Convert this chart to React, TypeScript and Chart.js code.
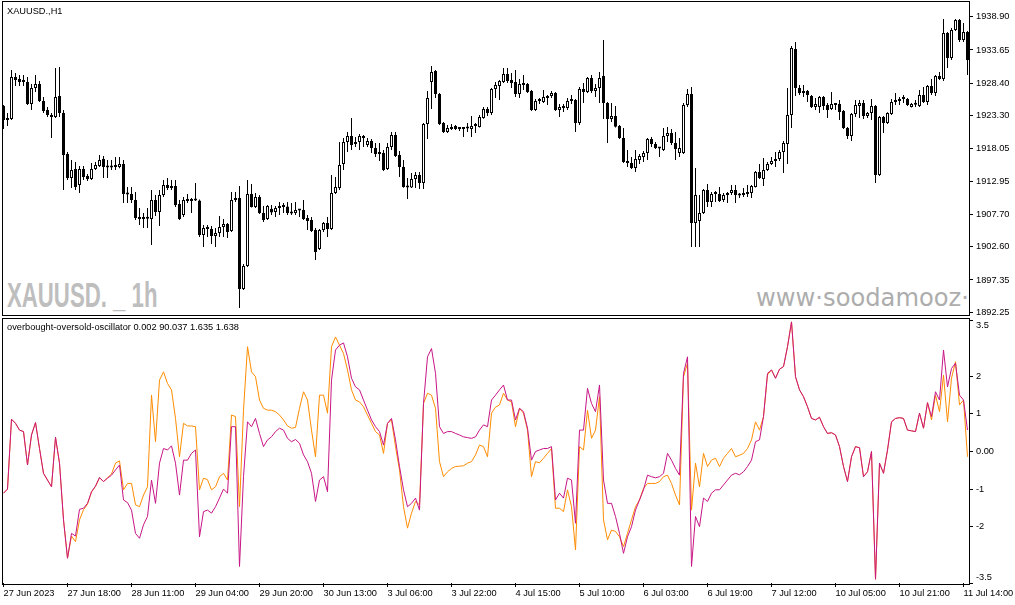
import React, { useEffect, useRef } from 'react';
import { Chart, registerables } from 'chart.js';

Chart.register(...registerables);

// ---------- Data ----------
const SYMBOL_TITLE = 'XAUUSD.,H1';
const INDICATOR_TITLE = 'overbought-oversold-oscillator 0.002 90.037 1.635 1.638';
const WATERMARK_SYMBOL = 'XAUUSD. _ 1h';
const WATERMARK_SITE = 'www·soodamooz·com';

const TIME_LABELS = [
  '27 Jun 2023', '27 Jun 18:00', '28 Jun 11:00', '29 Jun 04:00', '29 Jun 20:00', '30 Jun 13:00',
  '3 Jul 06:00', '3 Jul 22:00', '4 Jul 15:00', '5 Jul 10:00', '6 Jul 03:00', '6 Jul 19:00',
  '7 Jul 12:00', '10 Jul 05:00', '10 Jul 21:00', '11 Jul 14:00',
];
const TIME_TICK_STEP = 16; // one time label every 16 hourly bars

const PRICE_TICKS = [1892.25, 1897.35, 1902.6, 1907.7, 1912.95, 1918.05, 1923.3, 1928.4, 1933.65, 1938.9];
const PRICE_MIN = 1891.82;
const PRICE_MAX = 1941.22;

const OSC_TICKS = [-3.5, -2, -1, 0, 1, 2, 3.5];
const OSC_TICK_LABELS = ['-3.5', '-2', '-1', '0.00', '1', '2', '3.5'];
const OSC_MIN = -3.5;
const OSC_MAX = 3.5;

const OPEN = [
  1924.81,1922.60,1922.76,1929.39,1929.07,1928.76,1928.60,1925.13,1927.65,1928.29,
  1925.60,1924.18,1923.39,1923.08,1926.39,1923.71,1917.24,1913.45,1914.87,1912.35,
  1914.87,1913.77,1913.29,1914.87,1915.34,1916.45,1915.19,1915.10,1915.34,1915.19,
  1915.66,1910.93,1910.93,1909.98,1907.30,1906.98,1907.10,1906.98,1909.98,1908.08,
  1910.77,1912.35,1911.87,1912.19,1909.35,1907.61,1909.98,1909.82,1909.90,1909.90,
  1904.46,1905.56,1905.40,1904.30,1904.77,1905.72,1906.19,1905.09,1909.98,1910.30,
  1895.94,1899.56,1910.93,1908.87,1910.45,1907.93,1906.98,1908.60,1908.08,1908.72,
  1908.85,1908.95,1907.93,1907.93,1908.40,1908.40,1907.14,1906.82,1905.24,1902.25,
  1905.24,1906.35,1905.40,1911.08,1911.87,1915.66,1919.13,1920.08,1918.81,1919.13,
  1920.08,1918.66,1919.29,1918.19,1917.24,1917.40,1914.87,1918.34,1920.24,1917.08,
  1915.19,1912.03,1911.95,1913.29,1913.92,1912.66,1921.97,1928.60,1930.33,1926.71,
  1922.13,1920.71,1921.18,1921.66,1921.34,1921.18,1921.30,1921.18,1921.66,1921.50,
  1922.92,1924.34,1923.71,1927.49,1927.97,1928.60,1929.86,1928.92,1928.60,1926.71,
  1928.44,1928.29,1927.18,1924.18,1925.60,1925.44,1926.39,1926.39,1926.86,1924.18,
  1924.81,1924.50,1925.60,1925.76,1922.13,1927.49,1927.02,1929.23,1927.18,1927.65,
  1929.55,1925.29,1922.76,1923.24,1921.66,1919.76,1916.13,1915.82,1915.03,1916.29,
  1916.76,1917.40,1919.60,1918.81,1918.19,1917.87,1920.08,1920.55,1918.97,1917.40,
  1917.40,1924.97,1926.71,1906.35,1906.66,1907.93,1911.56,1909.66,1910.93,1910.93,
  1909.98,1910.77,1911.08,1911.56,1910.77,1910.77,1910.93,1911.08,1912.03,1914.40,
  1913.29,1914.71,1915.66,1916.13,1916.45,1917.55,1918.81,1923.39,1933.81,1927.65,
  1927.18,1927.18,1926.39,1924.66,1924.66,1926.23,1924.97,1924.34,1925.13,1925.13,
  1924.02,1921.34,1920.08,1923.55,1924.81,1925.29,1923.24,1923.71,1924.81,1913.92,
  1923.08,1922.13,1923.55,1925.44,1925.60,1925.92,1925.92,1924.66,1925.13,1924.81,
  1926.55,1925.44,1927.97,1926.86,1929.55,1929.07,1936.33,1932.39,1936.80,1938.38,
  1935.22,1936.49,
];

const HIGH = [
  1924.97,1923.71,1930.49,1930.02,1929.70,1929.70,1929.39,1928.29,1929.70,1928.76,
  1926.23,1924.66,1923.71,1930.81,1930.97,1924.18,1917.55,1916.29,1915.97,1915.35,
  1915.35,1914.08,1915.82,1915.97,1917.08,1916.92,1916.29,1916.29,1916.76,1916.76,
  1916.29,1912.03,1912.03,1911.24,1908.72,1907.93,1908.72,1911.56,1910.77,1911.56,
  1913.14,1913.45,1913.14,1913.14,1909.98,1910.45,1910.93,1910.30,1912.66,1910.05,
  1906.03,1906.03,1905.87,1905.56,1907.45,1906.98,1906.35,1911.24,1911.24,1912.19,
  1899.88,1913.14,1912.51,1911.08,1910.77,1909.03,1909.19,1909.20,1909.03,1909.66,
  1909.51,1909.66,1909.51,1909.66,1908.56,1909.98,1907.61,1907.30,1905.56,1905.40,
  1906.51,1907.30,1913.92,1913.61,1919.13,1919.76,1920.71,1922.92,1919.92,1920.39,
  1920.24,1919.76,1919.60,1918.97,1918.97,1917.87,1918.97,1920.71,1920.71,1917.71,
  1916.29,1913.45,1914.24,1914.40,1914.40,1922.13,1927.18,1931.12,1930.49,1926.86,
  1922.29,1921.81,1921.97,1921.81,1921.50,1921.50,1922.13,1923.24,1922.13,1923.39,
  1924.66,1924.66,1927.65,1928.60,1928.92,1930.81,1930.81,1930.02,1930.49,1929.07,
  1929.70,1928.44,1927.33,1925.92,1926.08,1927.33,1926.55,1927.18,1927.02,1925.13,
  1925.13,1926.08,1926.55,1925.92,1927.81,1928.44,1929.39,1929.70,1928.29,1930.17,
  1935.22,1925.44,1925.29,1924.81,1921.81,1921.34,1917.87,1916.76,1917.87,1917.24,
  1917.71,1919.76,1919.92,1919.13,1918.34,1921.34,1921.50,1921.18,1920.71,1919.76,
  1925.29,1927.49,1927.81,1915.03,1910.77,1911.71,1912.51,1911.24,1911.40,1912.03,
  1911.08,1911.24,1912.35,1912.35,1911.08,1911.87,1912.35,1912.35,1914.55,1915.66,
  1916.61,1915.97,1916.76,1917.55,1917.87,1919.29,1927.65,1934.28,1934.91,1928.13,
  1928.13,1927.33,1926.55,1926.08,1926.39,1926.39,1925.29,1927.02,1925.29,1925.76,
  1924.18,1921.50,1923.71,1925.76,1925.76,1925.76,1923.87,1925.92,1924.97,1923.24,
  1923.24,1923.80,1925.92,1926.86,1926.23,1926.55,1926.08,1925.29,1925.76,1927.33,
  1927.81,1928.13,1929.07,1929.70,1930.17,1938.54,1936.49,1937.12,1938.54,1938.54,
  1937.91,1936.65,
];

const LOW = [
  1921.18,1921.66,1922.60,1927.97,1927.97,1927.97,1924.97,1924.18,1927.02,1925.44,
  1923.71,1923.08,1919.76,1922.92,1923.08,1911.56,1913.14,1911.87,1911.56,1911.08,
  1913.14,1912.98,1913.14,1914.71,1915.19,1913.45,1913.45,1914.71,1914.71,1915.00,
  1909.51,1909.51,1909.51,1906.82,1906.03,1905.56,1905.56,1902.88,1907.45,1905.87,
  1910.45,1911.56,1911.56,1908.87,1906.82,1907.30,1909.51,1907.93,1909.82,1904.14,
  1902.56,1904.14,1903.04,1902.56,1904.14,1904.14,1903.98,1904.93,1909.66,1892.94,
  1895.78,1899.40,1908.80,1908.72,1907.77,1906.51,1906.82,1907.60,1907.30,1907.61,
  1907.93,1907.61,1907.61,1907.61,1907.30,1906.82,1905.24,1904.93,1900.51,1902.09,
  1904.93,1904.14,1905.24,1910.93,1911.56,1914.71,1917.55,1917.87,1918.34,1917.87,
  1918.34,1918.34,1917.40,1916.76,1916.13,1914.55,1914.71,1917.87,1916.76,1913.61,
  1911.90,1910.14,1911.87,1911.87,1911.71,1911.71,1919.60,1924.34,1926.08,1921.81,
  1920.55,1920.55,1921.02,1921.02,1920.86,1919.92,1920.71,1919.92,1920.55,1921.40,
  1922.80,1923.24,1923.39,1926.08,1925.76,1928.44,1928.44,1927.65,1926.23,1926.08,
  1927.33,1926.86,1924.02,1924.02,1925.13,1925.29,1924.97,1926.08,1924.02,1923.08,
  1923.87,1924.18,1925.13,1920.71,1921.81,1925.29,1926.86,1926.86,1926.23,1925.29,
  1922.76,1918.97,1922.29,1921.40,1919.60,1915.82,1915.19,1914.87,1914.40,1915.66,
  1915.97,1916.29,1918.34,1918.03,1916.76,1917.71,1919.13,1918.66,1916.29,1916.76,
  1917.24,1924.66,1902.56,1902.56,1902.56,1907.77,1908.87,1908.87,1909.66,1909.66,
  1909.66,1909.51,1910.77,1909.51,1910.30,1910.45,1910.45,1910.30,1911.95,1913.29,
  1912.19,1914.55,1915.50,1915.19,1916.13,1914.24,1915.66,1921.34,1926.39,1926.55,
  1926.23,1925.44,1924.50,1924.18,1923.71,1924.18,1922.92,1924.18,1924.18,1922.60,
  1921.18,1919.60,1919.29,1923.08,1922.92,1922.76,1922.92,1922.60,1912.66,1913.77,
  1920.55,1921.97,1923.39,1924.97,1924.97,1925.29,1924.81,1924.55,1924.66,1924.66,
  1925.29,1924.97,1926.55,1926.39,1928.92,1928.76,1930.81,1932.07,1936.65,1934.91,
  1934.91,1929.70,
];

const CLOSE = [
  1922.60,1922.92,1929.39,1928.92,1928.60,1928.60,1925.13,1927.65,1928.29,1925.60,
  1924.02,1923.39,1923.08,1926.23,1923.71,1917.08,1913.45,1914.71,1912.03,1914.87,
  1913.61,1913.29,1914.87,1915.50,1916.29,1915.19,1915.10,1915.15,1915.19,1915.66,
  1910.93,1910.85,1909.98,1907.14,1906.98,1907.10,1907.00,1909.98,1908.08,1910.77,
  1912.35,1911.87,1912.19,1909.19,1906.98,1909.98,1909.82,1909.90,1910.05,1904.46,
  1905.56,1905.40,1904.30,1904.77,1905.72,1906.19,1904.93,1909.98,1910.14,1895.94,
  1899.56,1910.93,1908.87,1910.45,1907.93,1906.82,1909.03,1908.00,1908.72,1908.85,
  1908.95,1907.93,1907.85,1908.40,1908.30,1906.98,1906.66,1905.09,1901.77,1905.24,
  1906.35,1905.40,1911.08,1912.03,1915.50,1919.13,1920.08,1918.66,1919.13,1920.08,
  1919.76,1919.29,1918.19,1917.24,1917.40,1914.71,1918.34,1920.24,1916.92,1915.19,
  1912.03,1911.95,1913.29,1913.92,1912.66,1921.97,1926.08,1930.17,1926.71,1921.97,
  1920.71,1921.34,1921.50,1921.18,1921.18,1921.30,1921.25,1921.66,1921.75,1923.08,
  1924.34,1923.71,1927.49,1928.13,1928.76,1929.86,1928.76,1928.44,1926.71,1928.29,
  1928.13,1927.02,1924.18,1925.60,1925.70,1926.23,1926.08,1926.86,1924.18,1924.66,
  1924.50,1925.60,1925.70,1922.13,1927.49,1927.02,1929.23,1927.18,1927.65,1929.23,
  1925.29,1922.76,1923.24,1921.55,1919.76,1915.97,1915.82,1915.03,1916.45,1916.92,
  1917.40,1919.60,1918.81,1918.19,1918.10,1920.08,1920.55,1918.97,1918.03,1918.19,
  1924.97,1926.71,1906.35,1910.77,1907.93,1911.56,1909.66,1910.93,1911.10,1909.82,
  1910.77,1911.08,1911.56,1910.77,1910.70,1911.08,1911.24,1912.19,1914.40,1913.45,
  1914.71,1915.66,1916.13,1916.20,1917.55,1918.97,1923.39,1933.97,1927.65,1926.86,
  1926.86,1926.55,1924.66,1925.13,1926.23,1924.81,1924.18,1925.13,1924.97,1923.87,
  1921.34,1920.08,1923.55,1924.97,1925.29,1923.24,1923.71,1924.81,1913.92,1923.08,
  1922.13,1923.71,1925.44,1925.76,1925.92,1926.23,1924.97,1925.13,1925.00,1926.55,
  1925.44,1927.97,1926.86,1929.55,1929.07,1936.33,1932.39,1936.80,1938.38,1935.22,
  1936.49,1932.07,
];

// oscillator main line (magenta)
const OSC_MAIN = [
  -1.11,-1.00,0.86,0.75,0.57,0.53,-0.36,0.44,0.77,0.08,
  -0.58,-0.76,-0.94,0.38,-0.31,-1.82,-2.84,-2.18,-2.25,-1.54,
  -1.51,-1.38,-1.07,-0.92,-0.69,-0.80,-0.71,-0.63,-0.49,-0.36,
  -1.29,-1.36,-1.56,-2.18,-2.31,-1.95,-1.73,-0.76,-1.38,-0.31,
  0.08,0.04,0.15,-0.31,-1.16,-0.23,-0.23,-0.05,0.04,-2.27,
  -1.60,-1.56,-1.64,-1.47,-1.24,-1.00,-1.11,0.66,0.66,-3.06,
  -0.67,0.79,0.66,0.88,0.48,0.13,0.31,0.39,0.53,0.62,
  0.57,0.35,0.26,0.32,0.22,-0.09,-0.27,-0.58,-1.33,-0.76,
  -0.67,-1.07,1.90,2.70,2.83,2.89,2.52,1.95,1.72,1.64,
  1.37,1.10,0.84,0.66,0.53,0.17,0.75,0.88,0.31,-0.40,
  -1.02,-1.47,-1.38,-1.24,-1.56,1.28,2.52,2.74,2.08,0.66,
  0.48,0.53,0.53,0.48,0.44,0.39,0.37,0.35,0.39,0.57,
  0.71,0.66,1.37,1.50,1.64,1.77,1.37,1.37,0.84,1.15,
  1.06,0.62,-0.23,0.00,0.04,0.08,0.08,0.13,-1.29,-1.11,
  -1.24,-0.71,-0.76,-1.91,0.57,0.57,1.68,1.28,1.06,1.77,
  -0.76,-1.38,-1.38,-1.73,-2.18,-2.71,-2.27,-2.00,-1.56,-1.29,
  -1.02,-0.63,-0.67,-0.70,-0.67,-0.58,-0.05,-0.23,-0.45,-0.63,
  2.08,2.52,-3.06,-1.73,-2.00,-1.24,-1.33,-1.11,-1.02,-1.02,
  -0.89,-0.76,-0.63,-0.58,-0.62,-0.54,-0.40,-0.23,0.26,0.31,
  0.93,2.08,2.17,1.95,2.19,2.26,2.79,3.45,1.99,1.64,
  1.46,1.19,0.88,0.84,0.91,0.66,0.48,0.50,0.44,0.13,
  -0.40,-0.80,-0.14,0.13,0.10,-0.67,-0.54,0.00,-3.40,-0.31,
  -0.58,0.04,0.79,0.88,0.90,0.88,0.57,0.55,0.53,1.02,
  0.62,1.30,0.93,1.59,1.37,2.70,1.72,2.21,2.35,1.50,
  1.37,0.57,
];

// oscillator signal line (orange)
const OSC_SIGNAL = [
  -1.11,-1.00,0.86,0.75,0.57,0.53,-0.36,0.44,0.77,0.08,
  -0.58,-0.76,-0.94,0.38,-0.31,-1.82,-2.84,-2.25,-2.40,-1.82,
  -1.55,-1.40,-1.08,-0.93,-0.70,-0.80,-0.70,-0.60,-0.31,-0.25,
  -1.02,-0.85,-0.85,-1.42,-1.47,-1.16,-0.94,1.50,0.26,1.90,
  2.12,1.81,1.64,0.88,-0.14,0.75,0.68,0.68,0.66,-1.02,
  -0.71,-0.75,-1.02,-0.94,-0.67,-0.58,-0.76,0.97,0.93,-1.47,
  1.10,2.79,2.12,1.99,1.37,1.15,1.10,1.10,1.06,0.97,
  0.84,0.68,0.62,0.64,1.15,1.59,1.37,0.57,-0.14,1.50,
  1.50,1.02,2.79,3.05,2.83,2.61,2.17,1.64,1.37,1.32,
  1.19,0.97,0.75,0.53,0.44,-0.05,0.75,0.84,0.13,-0.49,
  -1.47,-2.04,-1.64,-1.33,-1.42,1.28,1.55,1.50,1.15,-0.27,
  -0.67,-0.54,-0.45,-0.40,-0.39,-0.38,-0.31,-0.27,-0.09,0.17,
  0.13,-0.14,1.02,1.18,1.24,1.55,1.37,1.32,0.66,1.15,
  1.02,0.57,-0.67,-0.27,-0.30,-0.18,-0.05,0.08,-1.51,-1.51,
  -1.60,-1.02,-1.47,-2.62,0.13,0.04,1.10,0.35,0.57,1.46,
  -1.82,-2.35,-2.09,-2.13,-2.27,-2.53,-2.18,-1.82,-1.47,-1.29,
  -0.98,-0.85,-0.85,-0.85,-0.80,-0.67,-0.63,-0.85,-1.16,-1.42,
  1.99,2.35,-1.56,-0.31,-0.94,-0.05,-0.40,-0.23,-0.18,-0.40,
  -0.18,-0.05,0.08,-0.14,-0.10,-0.05,0.08,0.31,0.79,0.57,
  0.93,2.04,2.17,1.95,2.19,2.26,2.79,3.45,1.99,1.64,
  1.46,1.19,0.88,0.84,0.91,0.66,0.48,0.50,0.44,0.13,
  -0.40,-0.80,-0.14,0.13,0.10,-0.67,-0.54,0.00,-3.40,-0.31,
  -0.58,0.04,0.79,0.88,0.90,0.88,0.57,0.55,0.53,1.02,
  0.62,1.30,0.84,1.50,1.06,2.03,0.79,1.95,2.39,1.24,
  1.37,-0.14,
];

// ---------- Styling ----------
const FONT = "'Liberation Sans', Arial, sans-serif";
const TICK_FONT = { family: FONT, size: 9.25, lineHeight: 1.2 };
const MAIN_COLOR = '#C71585';
const SIGNAL_COLOR = '#FF8C00';

const W = 1015;
const PRICE_H = 318;
const OSC_TOP = 318;
const OSC_H = 605 - OSC_TOP;

function fixYAxis(scale: any) {
  scale.width = 46;
  scale.paddingTop = 0;
  scale.paddingBottom = 0;
}
function fixXAxis(scale: any) {
  scale.height = 22;
  scale.paddingLeft = 0;
  scale.paddingRight = 0;
}

const N = CLOSE.length;
const INDEX = CLOSE.map((_, i) => i);

const xBase = {
  type: 'linear' as const,
  min: -0.375,
  max: N - 1 + 0.375,
  offset: false,
  grid: { offset: false },
};

const yGrid = { drawOnChartArea: false, drawTicks: true, tickLength: 4, color: '#000', lineWidth: 1 };

function priceConfig(): any {
  return {
    type: 'bar',
    data: {
      datasets: [
        {
          label: 'wick',
          data: INDEX.map((i) => ({ x: i, y: [LOW[i], HIGH[i]] })),
          backgroundColor: '#000',
          borderWidth: 0,
          barThickness: 1,
          grouped: false,
          inflateAmount: 0,
          order: 1,
        },
        {
          label: 'body',
          data: INDEX.map((i) => ({ x: i, y: [OPEN[i], CLOSE[i]] })),
          backgroundColor: INDEX.map((i) => (CLOSE[i] >= OPEN[i] ? '#ffffff' : '#000000')),
          borderColor: '#000',
          borderWidth: 1,
          borderSkipped: false,
          barThickness: 3,
          minBarLength: 2,
          grouped: false,
          inflateAmount: 0,
          order: 0,
        },
      ],
    },
    options: {
      responsive: false,
      animation: false,
      devicePixelRatio: 1,
      events: [],
      layout: { autoPadding: false, padding: { left: 2, top: 2, right: 0, bottom: 3 } },
      plugins: { legend: { display: false }, tooltip: { enabled: false } },
      scales: {
        x: { ...xBase, display: false },
        y: {
          type: 'linear',
          position: 'right',
          min: PRICE_MIN,
          max: PRICE_MAX,
          afterBuildTicks: (s: any) => {
            s.ticks = PRICE_TICKS.map((value) => ({ value }));
          },
          afterFit: fixYAxis,
          border: { display: false },
          grid: yGrid,
          ticks: {
            font: TICK_FONT,
            color: '#000',
            padding: 3,
            autoSkip: false,
            callback: (v: any) => Number(v).toFixed(2),
          },
        },
      },
    },
  };
}

function oscConfig(): any {
  return {
    type: 'line',
    data: {
      datasets: [
        {
          label: 'main',
          data: INDEX.map((i) => ({ x: i, y: OSC_MAIN[i] })),
          borderColor: MAIN_COLOR,
          borderWidth: 1,
          pointRadius: 0,
          tension: 0,
          fill: false,
          order: 0,
        },
        {
          label: 'signal',
          data: INDEX.map((i) => ({ x: i, y: OSC_SIGNAL[i] })),
          borderColor: SIGNAL_COLOR,
          borderWidth: 1,
          pointRadius: 0,
          tension: 0,
          fill: false,
          order: 1,
        },
      ],
    },
    options: {
      responsive: false,
      animation: false,
      devicePixelRatio: 1,
      events: [],
      layout: { autoPadding: false, padding: { left: 2, top: 2, right: 0, bottom: 0 } },
      plugins: { legend: { display: false }, tooltip: { enabled: false } },
      scales: {
        x: {
          ...xBase,
          position: 'bottom',
          afterBuildTicks: (s: any) => {
            s.ticks = TIME_LABELS.map((_, k) => ({ value: k * TIME_TICK_STEP }));
          },
          afterFit: fixXAxis,
          border: { display: false },
          grid: { ...yGrid, offset: false },
          ticks: {
            font: TICK_FONT,
            color: '#000',
            padding: 1,
            align: 'start',
            maxRotation: 0,
            minRotation: 0,
            autoSkip: false,
            callback: (_v: any, i: number) => TIME_LABELS[i],
          },
        },
        y: {
          type: 'linear',
          position: 'right',
          min: OSC_MIN,
          max: OSC_MAX,
          afterBuildTicks: (s: any) => {
            s.ticks = OSC_TICKS.map((value) => ({ value }));
          },
          afterFit: fixYAxis,
          border: { display: false },
          grid: yGrid,
          ticks: {
            font: TICK_FONT,
            color: '#000',
            padding: 3,
            autoSkip: false,
            callback: (_v: any, i: number) => {
              const label = OSC_TICK_LABELS[i];
              if (i === 0) return [label, ''];
              if (i === OSC_TICK_LABELS.length - 1) return ['', label];
              return label;
            },
          },
        },
      },
    },
  };
}

export default function App() {
  const priceRef = useRef<HTMLCanvasElement>(null);
  const oscRef = useRef<HTMLCanvasElement>(null);

  useEffect(() => {
    const c1 = new Chart(priceRef.current as HTMLCanvasElement, priceConfig());
    const c2 = new Chart(oscRef.current as HTMLCanvasElement, oscConfig());
    return () => {
      c1.destroy();
      c2.destroy();
    };
  }, []);

  const smallText: React.CSSProperties = {
    position: 'absolute',
    fontFamily: FONT,
    fontSize: 9.25,
    lineHeight: '9.25px',
    color: '#000',
    whiteSpace: 'pre',
  };

  return (
    <div
      style={{
        position: 'fixed',
        left: 0,
        top: 0,
        width: W,
        height: 605,
        background: '#fff',
        overflow: 'hidden',
      }}
    >
      {/* watermarks, clipped to the price panel */}
      <div style={{ position: 'absolute', left: 3, top: 2, width: 966, height: 313, overflow: 'hidden' }}>
        <div
          style={{
            position: 'absolute',
            left: 3.7,
            top: 275.1,
            fontFamily: FONT,
            fontWeight: 'bold',
            fontSize: 35,
            lineHeight: '35px',
            color: '#BEBEBE',
            whiteSpace: 'pre',
            transform: 'scaleX(0.634)',
            transformOrigin: 'left top',
          }}
        >
          {WATERMARK_SYMBOL}
        </div>
        <div
          style={{
            position: 'absolute',
            left: 753,
            top: 284.2,
            fontFamily: "'DejaVu Sans', sans-serif",
            fontSize: 24.2,
            lineHeight: '24.2px',
            color: '#ADADAD',
            whiteSpace: 'pre',
          }}
        >
          {WATERMARK_SITE}
        </div>
      </div>

      <canvas
        ref={priceRef}
        width={W}
        height={PRICE_H}
        style={{ position: 'absolute', left: 0, top: 0, width: W, height: PRICE_H }}
      />
      <canvas
        ref={oscRef}
        width={W}
        height={OSC_H}
        style={{ position: 'absolute', left: 0, top: OSC_TOP, width: W, height: OSC_H }}
      />

      {/* panel frames */}
      <div
        style={{
          position: 'absolute',
          left: 2,
          top: 1,
          width: 968,
          height: 315,
          border: '1px solid #000',
          boxSizing: 'border-box',
          pointerEvents: 'none',
        }}
      />
      <div
        style={{
          position: 'absolute',
          left: 2,
          top: 318,
          width: 968,
          height: 267,
          border: '1px solid #000',
          boxSizing: 'border-box',
          pointerEvents: 'none',
        }}
      />

      <div style={{ ...smallText, left: 7, top: 6.9 }}>{SYMBOL_TITLE}</div>
      <div style={{ ...smallText, left: 7, top: 322.7 }}>{INDICATOR_TITLE}</div>
    </div>
  );
}
